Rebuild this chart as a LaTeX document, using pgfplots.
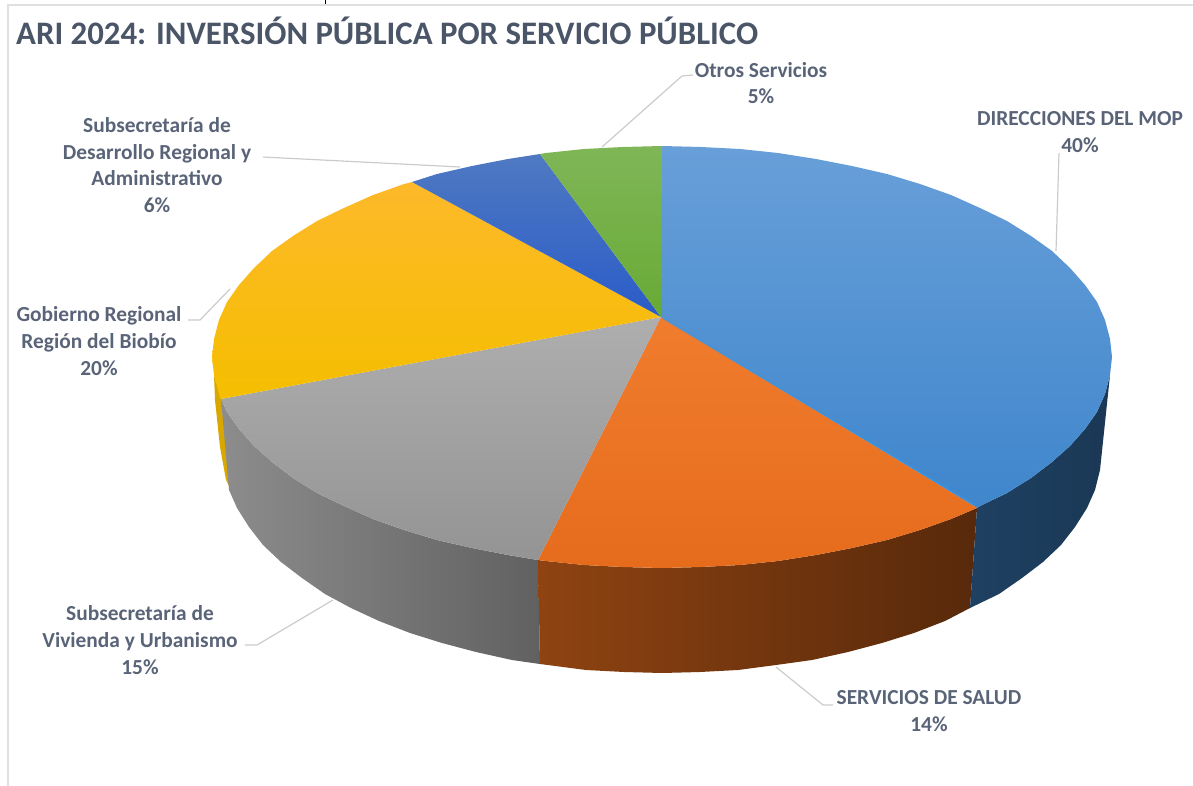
\documentclass[border=0pt]{standalone}
\usepackage{pgfplots}
\pgfplotsset{compat=1.18}
\usepackage{fontspec}
\setmainfont{Carlito}
\definecolor{lbl}{HTML}{5A6478}
\definecolor{ttl}{HTML}{4A5568}
\definecolor{leader}{HTML}{CBCBCB}
\definecolor{blueA}{HTML}{689FD9}
\definecolor{blueB}{HTML}{3F86CC}
\definecolor{blueC}{HTML}{3B93E0}
\definecolor{orangeA}{HTML}{F07C2E}
\definecolor{orangeB}{HTML}{E66C1C}
\definecolor{greyA}{HTML}{AEAEAE}
\definecolor{greyB}{HTML}{949494}
\definecolor{yellowA}{HTML}{FDB92A}
\definecolor{yellowB}{HTML}{F5BE00}
\definecolor{navyA}{HTML}{4F79C2}
\definecolor{navyB}{HTML}{2A5CC8}
\definecolor{greenA}{HTML}{7FB657}
\definecolor{greenB}{HTML}{68AA35}
\tikzset{lab/.style={font=\fontsize{21.4}{26.6}\selectfont\bfseries, text=lbl, align=center, inner sep=0pt}}
\begin{document}
\begin{tikzpicture}
\begin{axis}[
  width=1193pt, height=786pt, scale only axis,
  xmin=0, xmax=1193, ymin=0, ymax=786, y dir=reverse,
  axis lines=none, no markers,
]
% keeps the page as large as the axis
\addplot[draw=none] coordinates {(0,0) (1193,0) (1193,786) (0,786)};
% frame of the screenshot
\addplot[draw=black!12, line width=1.5pt] coordinates {(8,786) (8,5) (1193,5)};
\addplot[draw=black, line width=1pt] coordinates {(325,0) (325,4)};

% side walls
\addplot[draw=none, fill=yellowB!88!black] coordinates {(214,375) (221,399) (231,490) (226,480) (220,447) (215,400)};
\addplot[draw=none, left color=black!45, right color=black!62] coordinates {
  (221,399) (227,412) (239,429) (254,446) (272,462) (293,478) (317,493) (344,506) (373,519) (404,530) (437,540) (472,548) (508,555) (538,560)
  (540,664) (512,660) (476,652) (442,643) (410,633) (379,621) (351,608) (325,594) (302,578) (281,562) (263,545) (249,527) (237,508) (229,490)};
\addplot[draw=none, left color=orangeB!62!black, right color=orangeB!38!black] coordinates {
  (538,560) (546,561) (584,565) (623,567) (662,568) (701,567) (740,565) (778,561) (816,555) (852,548) (887,540) (920,530) (951,519) (977,508)
  (970,608) (945,621) (914,633) (882,643) (848,652) (812,660) (776,665) (738,670) (700,672) (662,673) (624,672) (586,670) (540,664)};
\addplot[draw=none, left color=blueB!48!black, right color=blueB!42!black] coordinates {
  (977,508) (980,506) (1007,493) (1031,478) (1052,462) (1070,446) (1085,429) (1097,412) (1105,394) (1110,375)
  (1102,451) (1100,470) (1095,490) (1087,508) (1075,527) (1061,545) (1043,562) (1022,578) (999,594) (970,608)};

% top faces
\addplot[draw=none, top color=blueA, bottom color=blueB] coordinates {
  (661,317) (662,146) (701,147) (740,149) (778,153) (816,159) (852,166) (887,174) (920,184) (951,195) (980,208) (1007,221) (1031,236) (1052,251)
  (1070,268) (1085,285) (1097,302) (1105,320) (1110,339) (1112,357) (1110,375) (1105,394) (1097,412) (1085,429) (1070,446) (1052,462) (1031,478)
  (1007,493) (980,506) (977,508)};
\addplot[draw=none, top color=orangeA, bottom color=orangeB] coordinates {
  (661,317) (977,508) (951,519) (920,530) (887,540) (852,548) (816,555) (778,561) (740,565) (701,567) (662,568) (623,567) (584,565) (546,561) (538,560)};
\addplot[draw=none, top color=greyA, bottom color=greyB] coordinates {
  (661,317) (538,560) (508,555) (472,548) (437,540) (404,530) (373,519) (344,506) (317,493) (293,478) (272,462) (254,446) (239,429) (227,412) (221,399)};
\addplot[draw=none, top color=yellowA, bottom color=yellowB] coordinates {
  (661,317) (221,399) (219,394) (214,375) (212,357) (214,339) (219,320) (227,302) (239,285) (254,268) (272,251) (293,236) (317,221) (344,208) (373,195) (404,184) (412,182)};
\addplot[draw=none, top color=navyA, bottom color=navyB] coordinates {
  (661,317) (412,182) (437,174) (472,166) (508,159) (540,154)};
\addplot[draw=none, top color=greenA, bottom color=greenB] coordinates {
  (661,317) (540,154) (546,153) (584,149) (623,147) (662,146)};
% lighter edge of the blue slice
\addplot[draw=blueC, line width=2pt, opacity=.7] coordinates {(663,318) (975,505)};

% leader lines
\addplot[draw=leader, line width=1.2pt] coordinates {(693,75) (682,76) (602,147)};
\addplot[draw=leader, line width=1.2pt] coordinates {(1059,153) (1056,251)};
\addplot[draw=leader, line width=1.2pt] coordinates {(263,157) (460,167)};
\addplot[draw=leader, line width=1.2pt] coordinates {(188,320) (200,320) (230,289)};
\addplot[draw=leader, line width=1.2pt] coordinates {(245,645) (257,645) (333,600)};
\addplot[draw=leader, line width=1.2pt] coordinates {(833,705) (823,705) (776,667)};

% text
\node[anchor=west, inner sep=0pt, font=\fontsize{32.8}{36}\selectfont\bfseries, text=ttl] at (axis cs:16,30.5) {ARI 2024: INVERSIÓN PÚBLICA POR SERVICIO PÚBLICO};
\node[lab] at (axis cs:761,83) {Otros Servicios\\5\%};
\node[lab] at (axis cs:1080,132) {DIRECCIONES DEL MOP\\40\%};
\node[lab] at (axis cs:157,165) {Subsecretaría de\\Desarrollo Regional y\\Administrativo\\6\%};
\node[lab] at (axis cs:99,341) {Gobierno Regional\\Región del Biobío\\20\%};
\node[lab] at (axis cs:140,640) {Subsecretaría de\\Vivienda y Urbanismo\\15\%};
\node[lab] at (axis cs:929,711) {SERVICIOS DE SALUD\\14\%};
\end{axis}
\end{tikzpicture}
\end{document}
